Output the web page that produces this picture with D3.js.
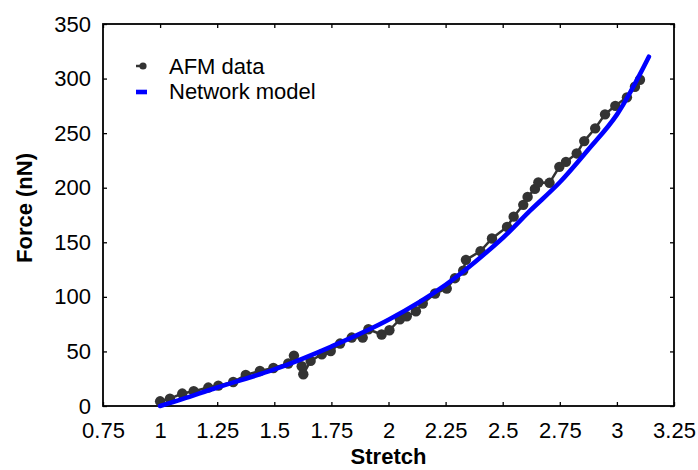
<!DOCTYPE html>
<html>
<head>
  <meta charset="utf-8">
  <title>Force vs Stretch</title>
  <script src="https://cdnjs.cloudflare.com/ajax/libs/d3/7.8.5/d3.min.js"></script>
  <style>
    body { margin: 0; background: #fff; }
    text { font-family: "Liberation Sans", Arial, sans-serif; }
  </style>
</head>
<body>
<div id="chart"></div>
<script>
// AFM data
var stretch = [1.0, 1.043, 1.097, 1.147, 1.211, 1.255, 1.320, 1.375, 1.437, 1.496, 1.561, 1.586, 1.620, 1.627, 1.659,
  1.708, 1.747, 1.788, 1.839, 1.887, 1.912, 1.970, 2.004, 2.050, 2.080, 2.120, 2.150, 2.204, 2.255, 2.291, 2.327,
  2.339, 2.403, 2.453, 2.519, 2.548, 2.590, 2.609, 2.641, 2.656, 2.705, 2.748, 2.777, 2.824, 2.857, 2.905, 2.948,
  2.993, 3.044, 3.079, 3.101];
var force = [4.3, 6.8, 11.4, 13.5, 16.9, 18.7, 22.0, 28.4, 32.1, 34.8, 38.9, 46.2, 36.4, 29.1, 41.3,
  47.4, 50.4, 57.2, 62.7, 62.7, 70.3, 65.5, 69.4, 79.5, 82.2, 86.8, 93.9, 103.1, 107.6, 117.1, 124.0,
  133.9, 141.9, 153.5, 164.1, 173.5, 184.3, 191.6, 198.9, 204.8, 204.5, 219.1, 223.7, 231.4, 242.7, 254.4, 267.2,
  275.0, 282.8, 292.5, 298.9];

// network model curve
var modelStretch = [1.0, 1.1, 1.25, 1.5, 1.75, 2.0, 2.25, 2.5, 2.62, 2.75, 2.875, 3.0, 3.14];
var modelForce = [0, 6.5, 17, 33.5, 54.5, 79, 111, 154, 179, 205, 235, 267, 320];

var xTicks = [0.75, 1, 1.25, 1.5, 1.75, 2, 2.25, 2.5, 2.75, 3, 3.25];
var yTicks = [0, 50, 100, 150, 200, 250, 300, 350];

var margin = {top: 24, right: 24, bottom: 64, left: 103},
    width = 698 - margin.left - margin.right,
    height = 470 - margin.top - margin.bottom;

var svg = d3.select("#chart")
  .append("svg")
    .attr("width", 698)
    .attr("height", 470)
  .append("g")
    .attr("transform", "translate(" + margin.left + "," + margin.top + ")");

var x = d3.scaleLinear().domain([0.75, 3.25]).range([0, width]);
var y = d3.scaleLinear().domain([0, 350]).range([height, 0]);

var fmt = d => String(d);

// axes, ticks pointing inwards
svg.append("g")
  .attr("class", "axis")
  .attr("transform", "translate(0," + height + ")")
  .call(d3.axisBottom(x).tickValues(xTicks).tickFormat(fmt).tickSize(-4).tickSizeOuter(0).tickPadding(16));
svg.append("g")
  .attr("class", "axis")
  .call(d3.axisLeft(y).tickValues(yTicks).tickFormat(fmt).tickSize(-4).tickSizeOuter(0).tickPadding(12));
svg.append("g")
  .attr("class", "axis noLabel")
  .call(d3.axisTop(x).tickValues(xTicks).tickSize(-4).tickSizeOuter(0));
svg.append("g")
  .attr("class", "axis noLabel")
  .attr("transform", "translate(" + width + ",0)")
  .call(d3.axisRight(y).tickValues(yTicks).tickSize(-4).tickSizeOuter(0));

svg.selectAll(".axis path").remove();
svg.selectAll(".axis line").attr("stroke", "#000").attr("stroke-width", 1.3);
svg.selectAll(".noLabel text").remove();
svg.selectAll(".axis text")
  .style("font-family", "'Liberation Sans', Arial, sans-serif")
  .style("font-size", "22px")
  .attr("fill", "#000");

// frame
svg.append("rect")
  .attr("x", 0).attr("y", 0)
  .attr("width", width).attr("height", height)
  .attr("fill", "none")
  .attr("stroke", "#000")
  .attr("stroke-width", 1.8);

// AFM data
var pts = stretch.map((s, i) => [s, force[i]]);
var line = d3.line().x(d => x(d[0])).y(d => y(d[1]));

svg.append("path")
  .datum(pts)
  .attr("d", line)
  .attr("fill", "none")
  .attr("stroke", "#333")
  .attr("stroke-width", 2.5);

svg.selectAll("circle.afm")
  .data(pts)
  .enter()
  .append("circle")
    .attr("class", "afm")
    .attr("cx", d => x(d[0]))
    .attr("cy", d => y(d[1]))
    .attr("r", 5.2)
    .attr("fill", "#333");

// model
var model = modelStretch.map((s, i) => [s, modelForce[i]]);
svg.append("path")
  .datum(model)
  .attr("d", line.curve(d3.curveCatmullRom))
  .attr("fill", "none")
  .attr("stroke", "#0000ff")
  .attr("stroke-width", 4.6)
  .attr("stroke-linecap", "round");

// legend
var leg = svg.append("g").attr("transform", "translate(33,0)");
leg.append("line")
  .attr("x1", 0).attr("x2", 8).attr("y1", 42).attr("y2", 42)
  .attr("stroke", "#333").attr("stroke-width", 2.5);
leg.append("circle")
  .attr("cx", 7).attr("cy", 42).attr("r", 3.6).attr("fill", "#333");
leg.append("line")
  .attr("x1", 0).attr("x2", 11).attr("y1", 68).attr("y2", 68)
  .attr("stroke", "#0000ff").attr("stroke-width", 4.6);
leg.append("text")
  .attr("x", 33).attr("y", 49.5)
  .style("font-size", "22px")
  .text("AFM data");
leg.append("text")
  .attr("x", 33).attr("y", 75)
  .style("font-size", "22px")
  .text("Network model");

// axis titles
svg.append("text")
  .attr("x", width / 2)
  .attr("y", 440)
  .attr("text-anchor", "middle")
  .style("font-size", "22px")
  .style("font-weight", "bold")
  .text("Stretch");

svg.append("text")
  .attr("transform", "translate(-71," + 184 + ")rotate(-90)")
  .attr("text-anchor", "middle")
  .style("font-size", "22px")
  .style("font-weight", "bold")
  .text("Force (nN)");
</script>
</body>
</html>
